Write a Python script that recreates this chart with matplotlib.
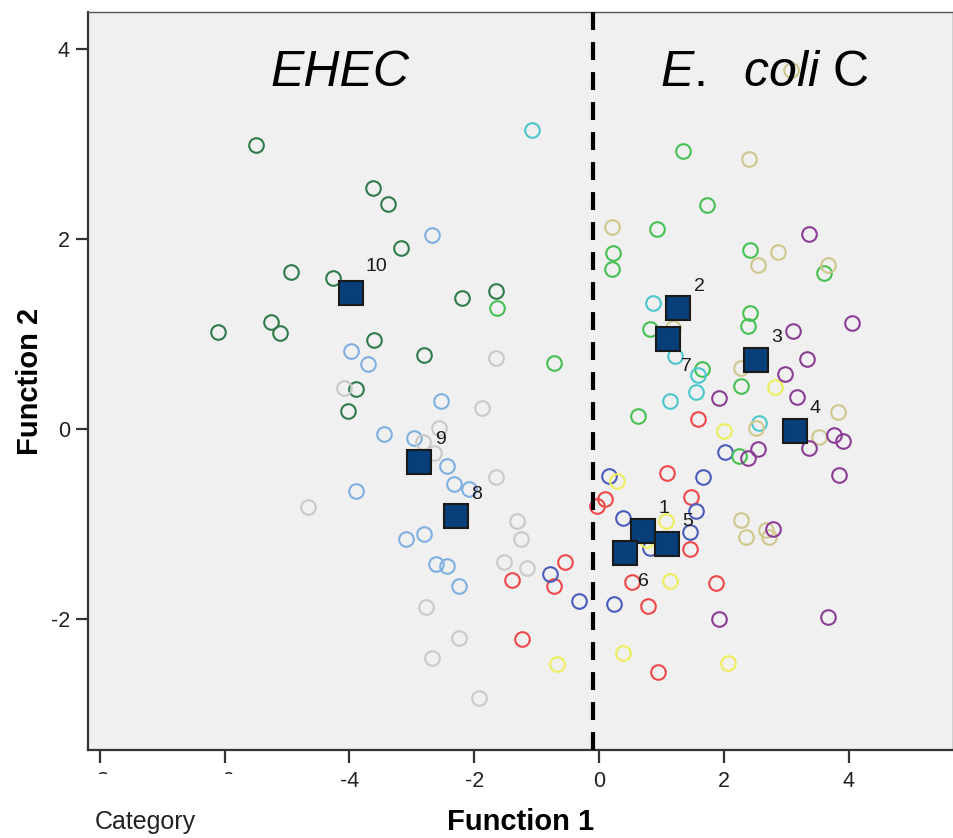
import matplotlib.pyplot as plt
from matplotlib.patches import Rectangle

plt.rcParams['font.family'] = ['Liberation Sans', 'DejaVu Sans']
plt.rcParams['axes.unicode_minus'] = False
plt.rcParams['mathtext.fontset'] = 'custom'
plt.rcParams['mathtext.it'] = 'Liberation Sans:italic'
plt.rcParams['mathtext.rm'] = 'Liberation Sans'

# case scores per group (Function 1, Function 2)
dkgreen_x = [-5.49, -4.94, -4.27, -3.63, -3.39, -3.17, -6.11, -5.25, -5.12, -2.20, -1.66, -3.60, -2.80, -3.89, -4.03]
dkgreen_y = [2.99, 1.65, 1.59, 2.54, 2.37, 1.91, 1.02, 1.13, 1.01, 1.38, 1.45, 0.94, 0.78, 0.42, 0.19]

ltblue_x = [-2.68, -3.98, -3.71, -2.54, -3.44, -2.96, -2.43, -2.33, -2.09, -3.89, -3.10, -2.81, -2.62, -2.43, -2.25]
ltblue_y = [2.04, 0.82, 0.68, 0.29, -0.05, -0.09, -0.39, -0.58, -0.63, -0.65, -1.16, -1.11, -1.42, -1.44, -1.65]

gray_x = [-4.66, -4.09, -1.66, -1.88, -2.56, -2.83, -2.64, -1.66, -1.31, -1.26, -1.53, -1.15, -2.78, -2.25, -2.67, -1.93]
gray_y = [-0.82, 0.43, 0.75, 0.22, 0.01, -0.14, -0.25, -0.51, -0.97, -1.16, -1.40, -1.46, -1.87, -2.20, -2.41, -2.83]

red_x = [-1.40, -0.54, -0.73, -1.23, -0.04, 0.10, 1.08, 1.47, 1.59, 1.45, 0.52, 1.88, 0.79, 0.95]
red_y = [-1.59, -1.40, -1.65, -2.21, -0.81, -0.74, -0.46, -0.72, 0.11, -1.26, -1.61, -1.62, -1.86, -2.56]

dkblue_x = [-0.78, -0.33, 0.15, 0.38, 0.23, 1.66, 1.55, 1.45, 0.81, 2.01]
dkblue_y = [-1.53, -1.81, -0.49, -0.94, -1.84, -0.51, -0.86, -1.09, -1.25, -0.24]

yellow_x = [0.28, 1.07, 0.76, 1.13, -0.68, 0.38, 2.06, 2.00, 2.81]
yellow_y = [-0.55, -0.97, -1.17, -1.60, -2.47, -2.36, -2.46, -0.02, 0.44]

green_x = [-1.63, -0.73, 0.20, 0.22, 0.92, 1.35, 1.72, 2.41, 2.41, 2.38, 3.61, 0.81, 1.64, 2.27, 0.62, 2.24]
green_y = [1.27, 0.69, 1.68, 1.85, 2.11, 2.93, 2.36, 1.88, 1.22, 1.08, 1.64, 1.05, 0.63, 0.45, 0.14, -0.28]

cyan_x = [-1.07, 0.86, 1.21, 1.58, 1.55, 1.13, 2.56]
cyan_y = [3.15, 1.33, 0.77, 0.57, 0.39, 0.29, 0.06]

khaki_x = [3.08, 0.20, 2.40, 2.86, 2.54, 3.66, 1.18, 2.28, 3.82, 2.51, 3.52, 2.27, 2.35, 2.68, 2.72]
khaki_y = [3.78, 2.13, 2.84, 1.86, 1.73, 1.73, 1.06, 0.64, 0.18, 0.01, -0.08, -0.96, -1.14, -1.06, -1.14]

purple_x = [3.37, 4.05, 3.10, 3.33, 2.97, 1.92, 3.17, 3.77, 3.90, 3.36, 2.38, 2.54, 3.85, 2.78, 1.92, 3.66]
purple_y = [2.05, 1.12, 1.03, 0.74, 0.58, 0.33, 0.34, -0.06, -0.13, -0.20, -0.31, -0.21, -0.48, -1.05, -2.00, -1.98]

# group centroids
cent_labels = ['1', '2', '3', '4', '5', '6', '7', '8', '9', '10']
cent_x = [0.71, 1.27, 2.51, 3.13, 1.08, 0.42, 1.11, -2.30, -2.88, -3.97]
cent_y = [-1.07, 1.27, 0.73, -0.02, -1.21, -1.31, 0.95, -0.92, -0.35, 1.43]

xticks = [-8, -6, -4, -2, 0, 2, 4]
yticks = [-2, 0, 2, 4]

groups = [
    (dkgreen_x, dkgreen_y, '#2f7b4a'),
    (ltblue_x, ltblue_y, '#7fb0e2'),
    (gray_x, gray_y, '#c9c9c9'),
    (red_x, red_y, '#ef4848'),
    (dkblue_x, dkblue_y, '#4a5cbc'),
    (yellow_x, yellow_y, '#eeee5c'),
    (green_x, green_y, '#46c052'),
    (cyan_x, cyan_y, '#4cc6cc'),
    (khaki_x, khaki_y, '#cfc78c'),
    (purple_x, purple_y, '#8b3c95'),
]

fig = plt.figure(figsize=(9.54, 8.38), dpi=100)
ax = fig.add_axes([0.0922, 0.105, 0.9068, 0.8807])
ax.set_facecolor('#f0f0f0')

for gx, gy, col in groups:
    ax.plot(gx, gy, 'o', ms=10.5, mfc='none', mec=col, mew=1.5, zorder=2)

ax.plot(cent_x, cent_y, 's', ms=17.5, mfc='#063f7a', mec='#1a1a1a', mew=1.5, zorder=4)

offsets = {'6': (9, -20), '7': (9, -20), '10': (10, 19)}
for lab, cx, cy in zip(cent_labels, cent_x, cent_y):
    off = offsets.get(lab, (11, 16))
    ax.annotate(lab, (cx, cy), xytext=off, textcoords='offset points',
                ha='left', va='center', fontsize=14, color='#1a1a1a', zorder=5)

ax.axvline(-0.1, color='black', lw=3, dashes=(4.3, 2.9), zorder=3)

ax.text(-4.15, 3.75, 'EHEC', fontsize=36, style='italic', ha='center', va='center')
ax.text(2.64, 3.75, r'$\mathit{E.}$  $\mathit{coli}$ C', fontsize=36, ha='center', va='center')

ax.set_xlim(-8.19, 5.67)
ax.set_ylim(-3.38, 4.39)
ax.set_xticks(xticks)
ax.set_yticks(yticks)
ax.tick_params(direction='out', length=9, width=1.6, color='#333333',
               labelsize=15.5, labelcolor='#222222', pad=4)
ax.tick_params(axis='x', pad=6)
for side in ['left', 'bottom']:
    ax.spines[side].set_linewidth(1.6)
    ax.spines[side].set_color('#333333')
for side in ['top', 'right']:
    ax.spines[side].set_linewidth(1.0)
    ax.spines[side].set_color('#555555')

ax.set_xlabel('Function 1', fontsize=21, fontweight='bold', va='center')
ax.xaxis.set_label_coords(0.5, -0.0976)
ax.set_ylabel('Function 2', fontsize=21, fontweight='bold', va='center')
ax.yaxis.set_label_coords(-0.067, 0.5)

# legend area hides the first tick labels
fig.patches.append(Rectangle((0, 0), 260 / 954, 64 / 838, transform=fig.transFigure,
                             facecolor='white', edgecolor='none', zorder=5))
fig.text(95 / 954, 16 / 838, 'Category', fontsize=18, ha='left', va='center',
         color='#222222', zorder=6)

fig.savefig('out.png', dpi=100)
